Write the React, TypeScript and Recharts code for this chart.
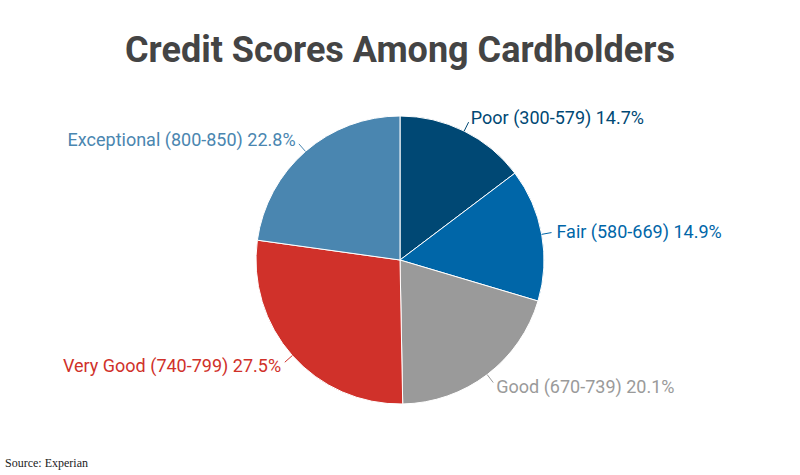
import { PieChart, Pie, Cell } from 'recharts';

const categories = ['Poor (300-579)', 'Fair (580-669)', 'Good (670-739)', 'Very Good (740-799)', 'Exceptional (800-850)'];
const shares = [14.7, 14.9, 20.1, 27.5, 22.8];
const colors = ['#004874', '#0066A8', '#9A9A9A', '#D0312A', '#4A86B0'];

const data = categories.map((name, i) => ({ name, value: shares[i] }));

const RAD = Math.PI / 180;

function renderLabel(props: any) {
  const { cx, cy, midAngle, outerRadius, index } = props;
  const cos = Math.cos(-midAngle * RAD);
  const sin = Math.sin(-midAngle * RAD);
  const x1 = cx + outerRadius * cos;
  const y1 = cy + outerRadius * sin;
  const x2 = cx + (outerRadius + 10) * cos;
  const y2 = cy + (outerRadius + 10) * sin;
  const tx = cx + (outerRadius + 15) * cos;
  const ty = cy + (outerRadius + 15) * sin;
  const anchor = cos >= 0 ? 'start' : 'end';
  const color = colors[index];
  return (
    <g>
      <polyline points={`${x1},${y1} ${x2},${y2}`} stroke={color} fill="none" strokeWidth={1} />
      <text x={tx} y={ty} dy="0.35em" textAnchor={anchor} fill={color} fontSize={18} fontFamily="Roboto">
        {`${categories[index]} ${shares[index].toFixed(1)}%`}
      </text>
    </g>
  );
}

export default function App() {
  return (
    <div style={{ position: 'absolute', left: 0, top: 0, width: 800, height: 475, background: '#fff' }}>
      <div
        style={{
          position: 'absolute',
          top: 28,
          left: 0,
          width: 800,
          textAlign: 'center',
          fontFamily: 'Roboto',
          fontWeight: 700,
          fontSize: 36,
          color: '#444444',
          lineHeight: '44px',
        }}
      >
        Credit Scores Among Cardholders
      </div>
      <PieChart width={800} height={475} margin={{ top: 0, right: 0, bottom: 0, left: 0 }}>
        <Pie
          data={data}
          dataKey="value"
          cx={400}
          cy={260}
          outerRadius={144}
          startAngle={90}
          endAngle={-270}
          stroke="#ffffff"
          strokeWidth={1}
          label={renderLabel}
          labelLine={false}
          isAnimationActive={false}
        >
          {data.map((d, i) => (
            <Cell key={d.name} fill={colors[i]} />
          ))}
        </Pie>
      </PieChart>
      <div
        style={{
          position: 'absolute',
          left: 5,
          top: 456,
          fontFamily: 'Liberation Serif',
          fontSize: 12,
          color: '#222',
        }}
      >
        Source: Experian
      </div>
    </div>
  );
}
